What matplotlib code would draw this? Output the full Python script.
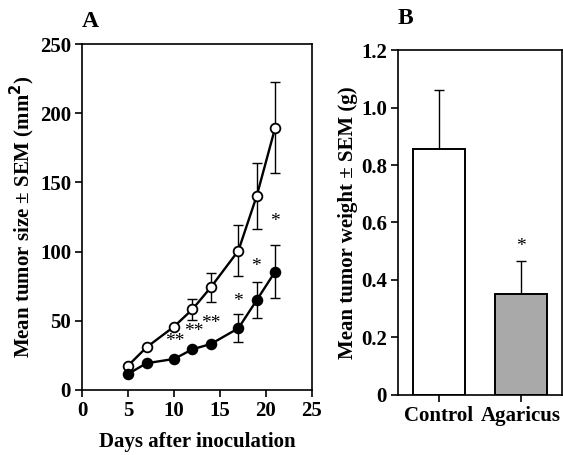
import numpy as np
import matplotlib
matplotlib.use('Agg')
import matplotlib.pyplot as plt

plt.rcParams['font.family'] = ['Liberation Serif', 'DejaVu Serif']
plt.rcParams['font.weight'] = 'bold'

# Painel A: tamanho do tumor ao longo dos dias
dias = [5, 7, 10, 12, 14, 17, 19, 21]
controle = [17.6, 30.8, 45.8, 58.3, 74.2, 100.7, 140.4, 189.5]
controle_sem = [0, 0, 0, 7.5, 10.5, 18.2, 24.0, 33.0]
agaricus = [11.6, 19.3, 22.4, 29.4, 33.2, 44.6, 65.0, 85.5]
agaricus_sem = [0, 0, 0, 0, 0, 10.0, 13.0, 19.0]

# asteriscos de significancia (x, y, texto)
sig_x = [10.1, 12.1, 14.0, 16.9, 18.9, 21.0]
sig_y = [35, 42.6, 48, 64, 89, 121.6]
sig_txt = ['**', '**', '**', '*', '*', '*']

# Painel B: peso do tumor
grupos = ['Control', 'Agaricus']
peso = [0.855, 0.35]
peso_sem = [0.205, 0.115]

fig = plt.figure(figsize=(5.63, 4.55), dpi=100)

# ---- Painel A
ax1 = fig.add_axes([0.146, 0.143, 0.408, 0.760])
ax1.errorbar(dias, controle, yerr=controle_sem, fmt='none', ecolor='black',
             elinewidth=1.0, capsize=3.5, capthick=1.0, zorder=1)
ax1.errorbar(dias, agaricus, yerr=agaricus_sem, fmt='none', ecolor='black',
             elinewidth=1.0, capsize=3.5, capthick=1.0, zorder=1)
ax1.plot(dias, controle, '-o', color='black', mfc='white', mec='black',
         ms=7, mew=1.3, lw=1.7, zorder=3)
ax1.plot(dias, agaricus, '-o', color='black', mfc='black', mec='black',
         ms=7, mew=1.3, lw=1.7, zorder=3)
for x, y, t in zip(sig_x, sig_y, sig_txt):
    ax1.text(x, y, t, ha='center', va='center', fontsize=14, fontweight='normal')

ax1.set_xlim(0, 25)
ax1.set_ylim(0, 250)
ax1.set_xticks([0, 5, 10, 15, 20, 25])
ax1.set_yticks([0, 50, 100, 150, 200, 250])
ax1.set_xlabel('Days after inoculation', fontsize=15, fontweight='bold', labelpad=8)
ax1.set_ylabel('Mean tumor size \u00b1 SEM (mm$^\\mathbf{2}$)', fontsize=15,
               fontweight='bold', labelpad=2)
ax1.text(0.0, 1.035, 'A', transform=ax1.transAxes, fontsize=17,
         fontweight='bold', ha='left', va='bottom')

# ---- Painel B
ax2 = fig.add_axes([0.707, 0.132, 0.291, 0.758])
pos = np.arange(len(grupos))
ax2.bar(pos, peso, width=0.64, color=['white', '#a9a9a9'], edgecolor='black',
        linewidth=1.4, zorder=2)
ax2.errorbar(pos, peso, yerr=[[0, 0], peso_sem], fmt='none', ecolor='black',
             elinewidth=1.0, capsize=3.5, capthick=1.0, zorder=1)
ax2.text(pos[1], peso[1] + peso_sem[1] + 0.05, '*', ha='center', va='center',
         fontsize=14, fontweight='normal')
ax2.set_xlim(-0.5, 1.5)
ax2.set_ylim(0, 1.2)
ax2.set_xticks(pos)
ax2.set_xticklabels(grupos)
ax2.set_yticks([0, 0.2, 0.4, 0.6, 0.8, 1.0, 1.2])
ax2.set_yticklabels(['0', '0.2', '0.4', '0.6', '0.8', '1.0', '1.2'])
ax2.set_ylabel('Mean tumor weight \u00b1 SEM (g)', fontsize=15,
               fontweight='bold', labelpad=2)
ax2.text(0.0, 1.06, 'B', transform=ax2.transAxes, fontsize=17,
         fontweight='bold', ha='left', va='bottom')

for ax in (ax1, ax2):
    for s in ax.spines.values():
        s.set_linewidth(1.2)
    ax.tick_params(direction='out', length=5, width=1.2, labelsize=15, pad=3,
                   top=False, right=False)
    for lab in ax.get_xticklabels() + ax.get_yticklabels():
        lab.set_fontweight('bold')

fig.savefig('out.png', dpi=100)
